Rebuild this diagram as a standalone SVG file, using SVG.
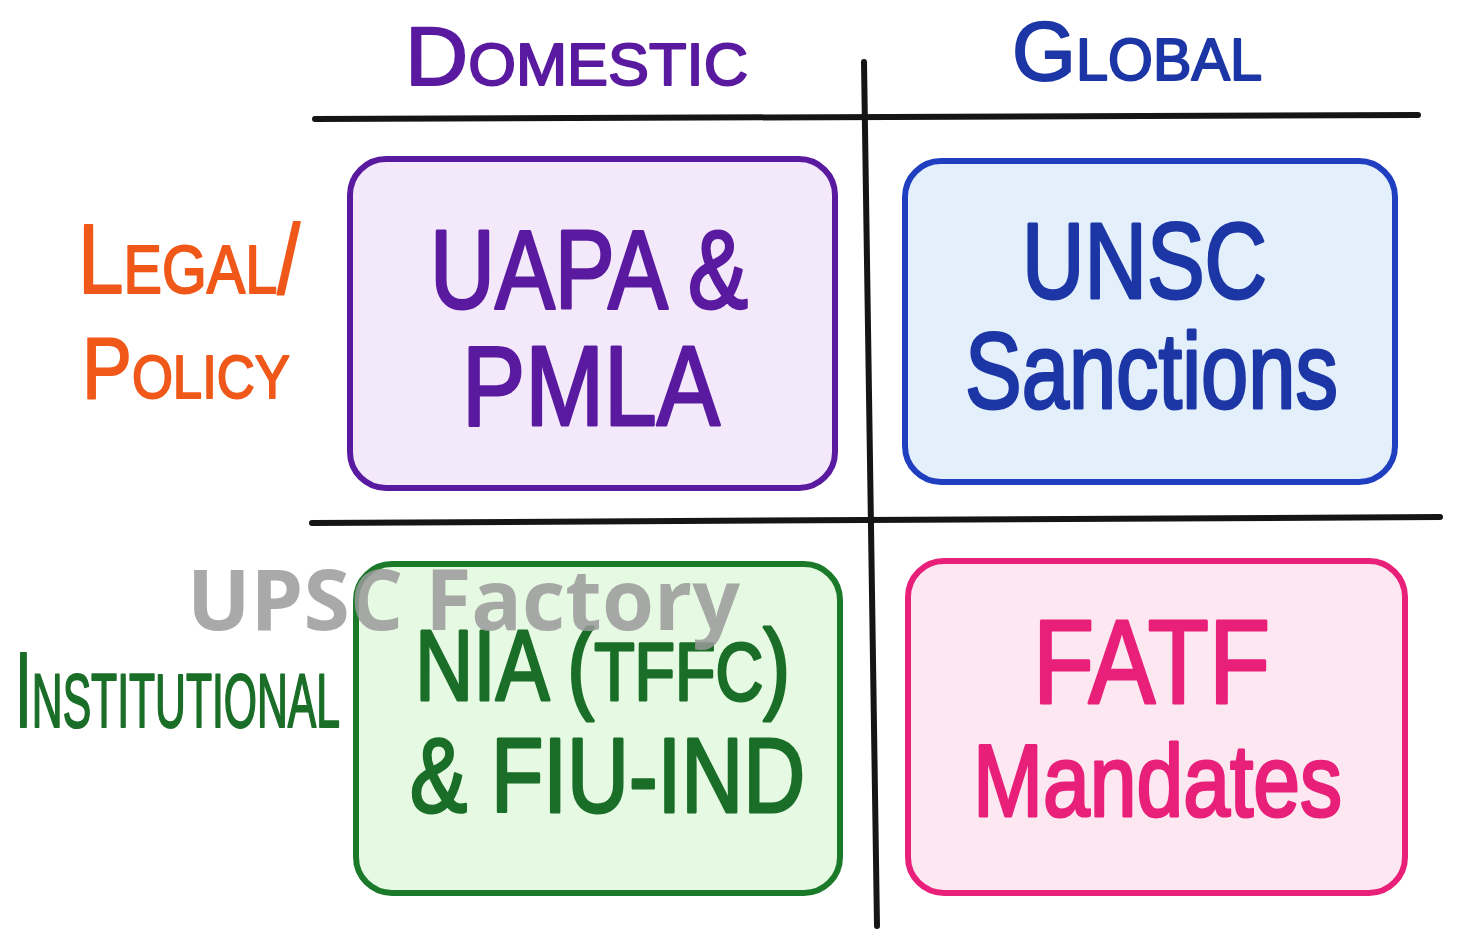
<svg xmlns="http://www.w3.org/2000/svg" width="1462" height="950" viewBox="0 0 1462 950">
<style>
  .t { font-family: "Liberation Sans", "Noto Sans", sans-serif; stroke-width: 3; stroke-linejoin: round; }
  .sc { font-family: "Liberation Sans", "Noto Sans", sans-serif; font-variant: small-caps; stroke-width: 2; stroke-linejoin: round; }
  .box { stroke-width: 6; }
  .grid { stroke: #151515; stroke-width: 6; stroke-linecap: round; fill: none; }
  .purple { fill: #5a1aa0; stroke: #5a1aa0; }
  .blue { fill: #1c36a6; stroke: #1c36a6; }
  .orange { fill: #f0581a; stroke: #f0581a; }
  .green { fill: #1a6e28; stroke: #1a6e28; }
  .pink { fill: #e8207a; stroke: #e8207a; }
</style>
<rect width="1462" height="950" fill="#ffffff"/>
<g id="connectors">
  <path class="grid" d="M315 119 L1418 115"/>
  <path class="grid" d="M312 523 L1440 517"/>
  <path class="grid" d="M864 62 L877 926"/>
</g>
<g id="header-domestic">
  <text class="sc purple" x="405" y="85" font-size="84" textLength="343" lengthAdjust="spacingAndGlyphs">Domestic</text>
</g>
<g id="header-global">
  <text class="sc blue" x="1012" y="80" font-size="84" textLength="250" lengthAdjust="spacingAndGlyphs">Global</text>
</g>
<g id="row-legal">
  <text class="sc orange" x="78" y="293" font-size="98" textLength="222" lengthAdjust="spacingAndGlyphs">Legal/</text>
  <text class="sc orange" x="82" y="398" font-size="88" textLength="208" lengthAdjust="spacingAndGlyphs">Policy</text>
</g>
<g id="row-institutional">
  <text class="sc green" x="15" y="727" font-size="108" textLength="325" lengthAdjust="spacingAndGlyphs">Institutional</text>
</g>
<g id="node-uapa">
  <rect class="box" x="350" y="159" width="485" height="329" rx="36" fill="#f3e9fb" stroke="#5a1aa0"/>
  <text class="t purple" x="430" y="308" font-size="112" textLength="318" lengthAdjust="spacingAndGlyphs">UAPA &amp;</text>
  <text class="t purple" x="462" y="425" font-size="114" textLength="258" lengthAdjust="spacingAndGlyphs">PMLA</text>
</g>
<g id="node-unsc">
  <rect class="box" x="905" y="161" width="490" height="321" rx="36" fill="#e3f0fc" stroke="#1f3fc0"/>
  <text class="t blue" x="1022" y="298" font-size="108" textLength="245" lengthAdjust="spacingAndGlyphs">UNSC</text>
  <text class="t blue" x="965" y="408" font-size="108" textLength="373" lengthAdjust="spacingAndGlyphs">Sanctions</text>
</g>
<g id="node-nia">
  <rect class="box" x="356" y="564" width="484" height="329" rx="36" fill="#e6f9e2" stroke="#1a7a2a"/>
  <text class="t green" x="415" y="700" font-size="100" textLength="375" lengthAdjust="spacingAndGlyphs">NIA (<tspan font-size="82">TFFC</tspan>)</text>
  <text class="t green" x="410" y="812" font-size="106" textLength="395" lengthAdjust="spacingAndGlyphs">&amp; FIU-IND</text>
</g>
<g id="node-fatf">
  <rect class="box" x="908" y="561" width="497" height="332" rx="36" fill="#fde8f1" stroke="#e8207a"/>
  <text class="t pink" x="1033" y="703" font-size="118" textLength="237" lengthAdjust="spacingAndGlyphs">FATF</text>
  <text class="t pink" x="973" y="816" font-size="102" textLength="369" lengthAdjust="spacingAndGlyphs">Mandates</text>
</g>
<g id="watermark">
  <text x="187" y="630" font-family="'Open Sans', 'Liberation Sans', sans-serif" font-weight="bold" font-size="84" fill="#9a9a9a" fill-opacity="0.85" textLength="553" lengthAdjust="spacingAndGlyphs">UPSC Factory</text>
</g>
</svg>
